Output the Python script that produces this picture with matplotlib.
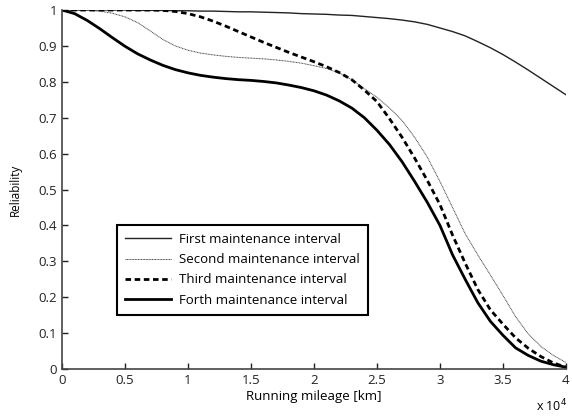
import numpy as np
import matplotlib
matplotlib.use("Agg")
import matplotlib.pyplot as plt
from matplotlib.ticker import FuncFormatter, MultipleLocator

# running mileage (x 10^4 km)
mileage = np.round(np.arange(0, 4.01, 0.1), 1)

first = [1.000, 1.000, 1.000, 1.000, 1.000, 1.000, 0.999, 0.999, 0.999, 0.998,
         0.998, 0.997, 0.997, 0.996, 0.995, 0.995, 0.994, 0.993, 0.992, 0.990,
         0.989, 0.988, 0.986, 0.985, 0.982, 0.979, 0.976, 0.972, 0.967, 0.960,
         0.950, 0.940, 0.928, 0.912, 0.895, 0.876, 0.855, 0.833, 0.810, 0.787,
         0.764]

second = [1.000, 1.000, 0.999, 0.997, 0.991, 0.981, 0.965, 0.942, 0.918, 0.900,
          0.888, 0.880, 0.875, 0.871, 0.868, 0.866, 0.864, 0.861, 0.857, 0.852,
          0.845, 0.837, 0.825, 0.806, 0.781, 0.757, 0.727, 0.692, 0.645, 0.590,
          0.522, 0.450, 0.377, 0.318, 0.262, 0.205, 0.146, 0.098, 0.063, 0.038,
          0.018]

third = [1.000, 1.000, 1.000, 1.000, 1.000, 1.000, 1.000, 1.000, 0.999, 0.996,
         0.990, 0.981, 0.969, 0.955, 0.940, 0.925, 0.910, 0.896, 0.882, 0.869,
         0.856, 0.842, 0.826, 0.806, 0.777, 0.745, 0.697, 0.645, 0.587, 0.525,
         0.458, 0.373, 0.295, 0.222, 0.165, 0.125, 0.087, 0.058, 0.035, 0.017,
         0.005]

forth = [1.000, 0.990, 0.971, 0.948, 0.923, 0.899, 0.878, 0.861, 0.846, 0.834,
         0.825, 0.818, 0.813, 0.809, 0.806, 0.804, 0.801, 0.797, 0.791, 0.784,
         0.775, 0.763, 0.747, 0.727, 0.700, 0.665, 0.625, 0.577, 0.522, 0.464,
         0.400, 0.318, 0.250, 0.185, 0.133, 0.094, 0.059, 0.038, 0.022, 0.012,
         0.005]

labels = ["First maintenance interval", "Second maintenance interval",
          "Third maintenance interval", "Forth maintenance interval"]

plt.rcParams["font.family"] = ["Open Sans", "DejaVu Sans"]

fig = plt.figure(figsize=(5.72, 4.18), dpi=100)
ax = fig.add_axes([0.1084, 0.1172, 0.881, 0.8588])

ax.plot(mileage, first, color="#222222", lw=1.0, label=labels[0])
ax.plot(mileage, second, color="#444444", lw=0.7, ls=(0, (1, 0.6)), label=labels[1])
ax.plot(mileage, third, color="black", lw=2.0, ls=(0, (2.0, 1.3)), label=labels[2])
ax.plot(mileage, forth, color="black", lw=2.0, label=labels[3])

ax.set_xlim(0, 4)
ax.set_ylim(0, 1)
ax.xaxis.set_major_locator(MultipleLocator(0.5))
ax.yaxis.set_major_locator(MultipleLocator(0.1))
fmt = FuncFormatter(lambda v, p: f"{v:g}")
ax.xaxis.set_major_formatter(fmt)
ax.yaxis.set_major_formatter(fmt)
ax.tick_params(direction="in", length=4, width=1, labelsize=9.5, colors="#222222")

for s in ["top", "right"]:
    ax.spines[s].set_visible(False)
for s in ["left", "bottom"]:
    ax.spines[s].set_color("#444444")
    ax.spines[s].set_linewidth(1.2)

ax.set_xlabel("Running mileage [km]", fontsize=9.5, labelpad=2)
ax.set_ylabel("Reliability", fontsize=8.5, labelpad=12)
ax.text(0.94, -0.118, r"x 10$^4$", transform=ax.transAxes, fontsize=9,
        va="baseline", ha="left")

leg = ax.legend(loc="upper left", bbox_to_anchor=(0.109, 0.401), borderaxespad=0,
                fontsize=9.5, fancybox=False, framealpha=1, edgecolor="black",
                handlelength=3.5, handletextpad=0.6, labelspacing=0.55,
                borderpad=0.6)
leg.get_frame().set_linewidth(1.5)

fig.savefig("out.png", dpi=100)
